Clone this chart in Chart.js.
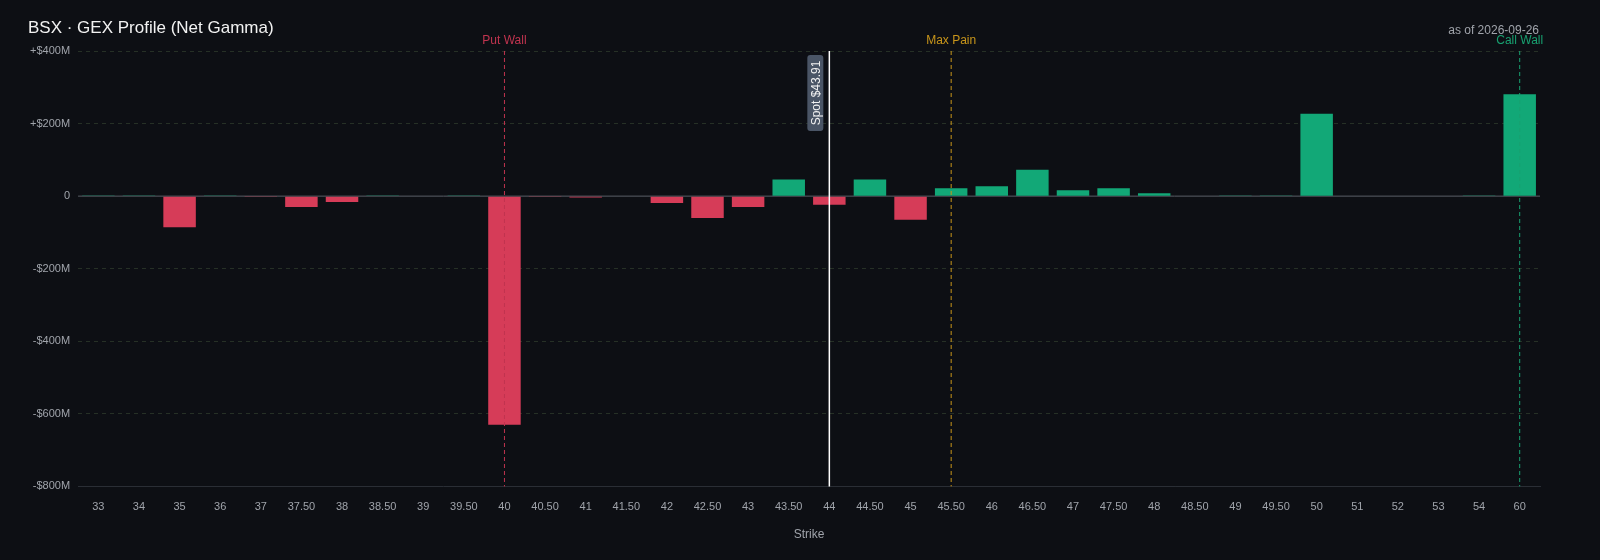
<!DOCTYPE html>
<html>
<head>
<meta charset="utf-8">
<script src="https://cdn.jsdelivr.net/npm/chart.js@4"></script>
<style>
  html, body { margin: 0; padding: 0; background: #0d0f14; }
  #wrap { width: 1600px; height: 560px; position: relative; }
</style>
</head>
<body>
<div id="wrap"><canvas id="gex"></canvas></div>
<script>
const strikes = ['33','34','35','36','37','37.50','38','38.50','39','39.50','40','40.50','41','41.50','42','42.50','43','43.50','44','44.50','45','45.50','46','46.50','47','47.50','48','48.50','49','49.50','50','51','52','53','54','60'];
// net gamma, $M
const netGamma = [0.5, 0.3, -86, 0.3, -1, -30, -16, 0.3, -2, 0.3, -630, -1, -4, -2, -19, -60, -30, 46, -24, 46, -65, 22, 27, 73, 16, 22, 8, 1, 0.3, 0.3, 227, 1, -2, 1, 0.3, 281];
const yTicks = [400, 200, 0, -200, -400, -600, -800];
const spotStrike = '44', spotLabel = 'Spot $43.91';
const markers = [
  { strike: '40', label: 'Put Wall', color: '#c0344f' },
  { strike: '45.50', label: 'Max Pain', color: '#c8951a' },
  { strike: '60', label: 'Call Wall', color: '#18a070' }
];

const overlay = {
  id: 'overlay',
  beforeDatasetsDraw(chart) {
    const { ctx, chartArea: a, scales: { y } } = chart;
    const zy = y.getPixelForValue(0);
    ctx.save();
    ctx.strokeStyle = '#5a5e66'; ctx.lineWidth = 1;
    ctx.beginPath(); ctx.moveTo(a.left, zy); ctx.lineTo(a.right, zy); ctx.stroke();
    ctx.restore();
  },
  afterDatasetsDraw(chart) {
    const { ctx, chartArea: a, scales: { x } } = chart;
    ctx.save();
    ctx.font = '17px "Liberation Sans", Arial, sans-serif';
    ctx.fillStyle = '#f2f2f2';
    ctx.textBaseline = 'middle';
    ctx.fillText('BSX · GEX Profile (Net Gamma)', 28, 28);
    ctx.font = '12px "Liberation Sans", Arial, sans-serif';
    ctx.fillStyle = '#a0a4ab';
    ctx.textAlign = 'right';
    ctx.fillText('as of 2026-09-26', 1539, 31);
    markers.forEach(m => {
      const px = x.getPixelForValue(strikes.indexOf(m.strike));
      ctx.strokeStyle = m.color; ctx.lineWidth = 1; ctx.setLineDash([4, 3]);
      ctx.beginPath(); ctx.moveTo(px, a.top); ctx.lineTo(px, a.bottom); ctx.stroke();
      ctx.setLineDash([]);
      ctx.fillStyle = m.color; ctx.textAlign = 'center';
      ctx.fillText(m.label, px, 41);
    });
    const sx = x.getPixelForValue(strikes.indexOf(spotStrike));
    ctx.strokeStyle = '#ffffff'; ctx.lineWidth = 1.5;
    ctx.beginPath(); ctx.moveTo(sx, a.top); ctx.lineTo(sx, a.bottom); ctx.stroke();
    ctx.translate(sx - 14, 93); ctx.rotate(-Math.PI / 2);
    ctx.fillStyle = '#4a5566';
    ctx.beginPath(); ctx.roundRect(-38, -8, 76, 16, 3); ctx.fill();
    ctx.fillStyle = '#f2f2f2'; ctx.textAlign = 'center';
    ctx.fillText(spotLabel, 0, 1);
    ctx.restore();
  }
};

new Chart(document.getElementById('gex'), {
  type: 'bar',
  data: {
    labels: strikes,
    datasets: [{
      data: netGamma,
      backgroundColor: netGamma.map(v => v >= 0 ? '#12a877' : '#d63c58'),
      categoryPercentage: 0.8,
      barPercentage: 1
    }]
  },
  options: {
    responsive: true, maintainAspectRatio: false, animation: false,
    layout: { padding: { top: 51, right: 60, left: 22, bottom: 14 } },
    plugins: { legend: { display: false }, tooltip: { enabled: false } },
    scales: {
      x: {
        grid: { display: false },
        border: { color: '#2a2e35' },
        ticks: { color: '#a0a4ab', font: { size: 11 }, maxRotation: 0, autoSkip: false, padding: 6 },
        title: { display: true, text: 'Strike', color: '#a0a4ab', font: { size: 12 }, padding: { top: 8 } }
      },
      y: {
        min: -800, max: 400,
        afterBuildTicks: s => { s.ticks = yTicks.map(v => ({ value: v })); },
        grid: { color: ctx => ctx.tick && ctx.tick.value === 0 ? 'rgba(0,0,0,0)' : '#263026', drawTicks: false },
        border: { display: false, dash: [4, 4] },
        ticks: {
          color: '#a0a4ab', font: { size: 11 }, padding: 8,
          callback: v => v === 0 ? '0' : (v > 0 ? '+$' + v + 'M' : '-$' + Math.abs(v) + 'M')
        }
      }
    }
  },
  plugins: [overlay]
});
</script>
</body>
</html>
